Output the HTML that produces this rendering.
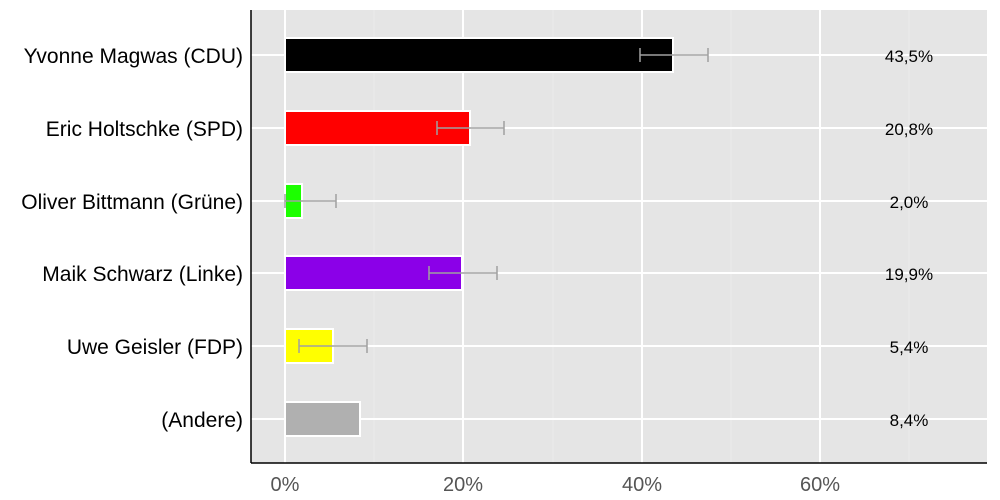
<!DOCTYPE html>
<html><head><meta charset="utf-8"><style>
body{margin:0;background:#fff;}
svg{display:block;font-family:"Liberation Sans",Helvetica,Arial,sans-serif;}
</style></head><body>
<svg width="1000" height="500" viewBox="0 0 1000 500">
<rect x="251" y="10" width="736" height="453" fill="#e5e5e5"/>
<g stroke="#ececec" stroke-width="1">
<line x1="374" y1="10" x2="374" y2="463"/><line x1="553" y1="10" x2="553" y2="463"/><line x1="731" y1="10" x2="731" y2="463"/><line x1="909" y1="10" x2="909" y2="463"/>
</g>
<g stroke="#fff" stroke-width="2">
<line x1="285" y1="10" x2="285" y2="463"/><line x1="463" y1="10" x2="463" y2="463"/><line x1="642" y1="10" x2="642" y2="463"/><line x1="820" y1="10" x2="820" y2="463"/>
<line x1="251" y1="55" x2="987" y2="55"/><line x1="251" y1="128" x2="987" y2="128"/><line x1="251" y1="201" x2="987" y2="201"/><line x1="251" y1="273" x2="987" y2="273"/><line x1="251" y1="346" x2="987" y2="346"/><line x1="251" y1="419" x2="987" y2="419"/>
</g>
<g stroke="#fff" stroke-width="2">
<rect x="285" y="38" width="388" height="34" fill="#000"/>
<rect x="285" y="111" width="185" height="34" fill="#ff0000"/>
<rect x="285" y="184" width="17" height="34" fill="#1cff00"/>
<rect x="285" y="256" width="177" height="34" fill="#8b00e8"/>
<rect x="285" y="329" width="48" height="34" fill="#ffff00"/>
<rect x="285" y="402" width="75" height="34" fill="#b0b0b0"/>
</g>
<g stroke="#a0a0a0" stroke-width="1.5" fill="none">
<path d="M640 55H708M640 48V62M708 48V62"/>
<path d="M437 128H504M437 121V135M504 121V135"/>
<path d="M285 201H336M285 194V208M336 194V208"/>
<path d="M429 273H497M429 266V280M497 266V280"/>
<path d="M299 346H367M299 339V353M367 339V353"/>
</g>
<line x1="251" y1="10" x2="251" y2="463" stroke="#000" stroke-width="1.5"/>
<line x1="251" y1="463" x2="987" y2="463" stroke="#000" stroke-width="1.5"/>
<g font-size="17" text-anchor="middle" fill="#000">
<text x="909" y="62">43,5%</text><text x="909" y="135">20,8%</text><text x="909" y="208">2,0%</text><text x="909" y="280">19,9%</text><text x="909" y="353">5,4%</text><text x="909" y="426">8,4%</text>
</g>
<g font-size="21" text-anchor="end" fill="#000">
<text x="243" y="63">Yvonne Magwas (CDU)</text><text x="243" y="136">Eric Holtschke (SPD)</text><text x="243" y="209">Oliver Bittmann (Grüne)</text><text x="243" y="281">Maik Schwarz (Linke)</text><text x="243" y="354">Uwe Geisler (FDP)</text><text x="243" y="427">(Andere)</text>
</g>
<g font-size="20" text-anchor="middle" fill="#555">
<text x="285" y="491">0%</text><text x="463" y="491">20%</text><text x="642" y="491">40%</text><text x="820" y="491">60%</text>
</g>
</svg>
</body></html>
